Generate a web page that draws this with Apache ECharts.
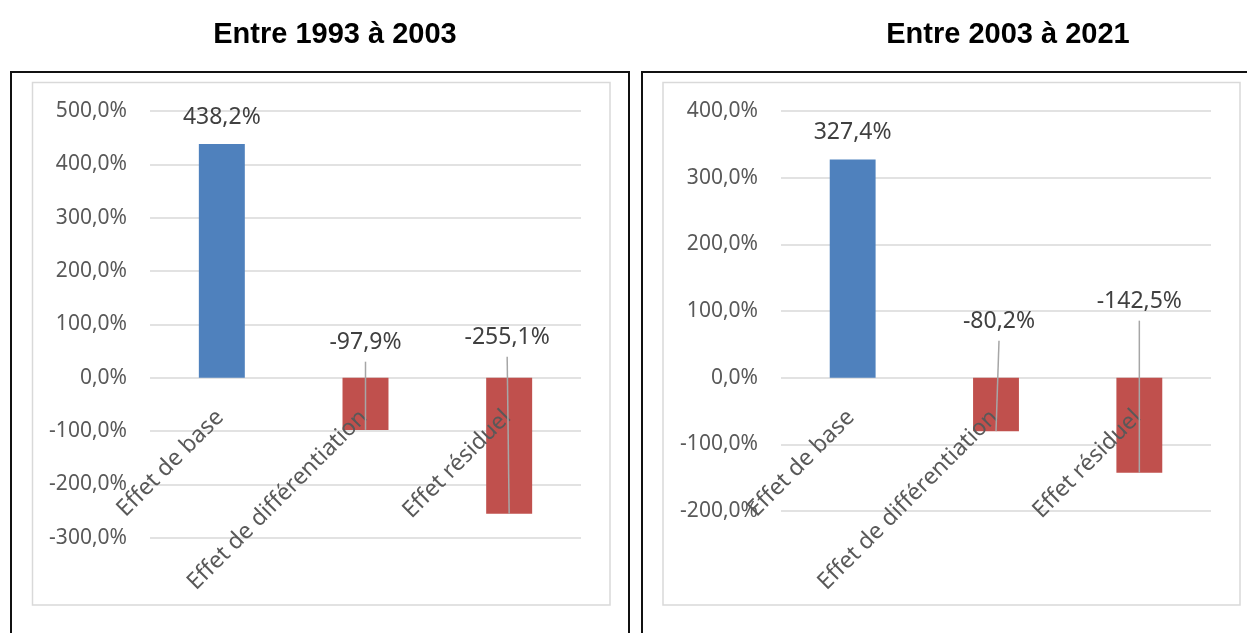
<!DOCTYPE html>
<html>
<head>
<meta charset="utf-8">
<style>
  html, body { margin: 0; padding: 0; background: #ffffff; }
  #chart { width: 1247px; height: 633px; }
</style>
<script src="https://cdn.jsdelivr.net/npm/echarts@6/dist/echarts.min.js"></script>
</head>
<body>
<div id="chart"></div>
<script>
// Décomposition shift-share : effets de base, de différentiation et résiduel
const categories = ['Effet de base', 'Effet de différentiation', 'Effet résiduel'];
const periodTitles = ['Entre 1993 à 2003', 'Entre 2003 à 2021'];
const values1993_2003 = [438.2, -97.9, -255.1];
const values2003_2021 = [327.4, -80.2, -142.5];
const axisMin = [-300, -200];
const axisMax = [500, 400];
const axisStep = 100;

// Placement of the callout labels on negative bars (pixels above the zero line, horizontal nudge)
const calloutLift = [[0, 35, 40], [0, 56, 76]];
const calloutNudge = [[0, 0, -2], [0, 3, 0]];
// Category names hang below the zero line, slanted at 45°
const catLabelGap = 28;
const catLabelShift = -10;

const BLUE = '#4F81BD';
const RED = '#C0504D';
const AXIS_TEXT = '#595959';
const LABEL_TEXT = '#404040';
const GRID_LINE = '#D9D9D9';
const FONT = '"Noto Sans", "Open Sans", sans-serif';

function pct(v) {
  return v.toFixed(1).replace('.', ',') + '%';
}

const chart = echarts.init(document.getElementById('chart'), null, { renderer: 'canvas' });

const grids = [
  { left: 150, right: 666, top: 111, bottom: 95.3, containLabel: false, outerBoundsMode: 'none' },
  { left: 781, right: 36, top: 111, bottom: 122, containLabel: false, outerBoundsMode: 'none' }
];
const seriesValues = [values1993_2003, values2003_2021];

const xAxes = [], yAxes = [], series = [];
seriesValues.forEach((vals, i) => {
  xAxes.push({
    type: 'category',
    gridIndex: i,
    data: categories,
    axisLine: { show: false },
    axisTick: { show: false },
    axisLabel: { show: false }
  });
  yAxes.push({
    type: 'value',
    gridIndex: i,
    min: axisMin[i],
    max: axisMax[i],
    interval: axisStep,
    axisLine: { show: false },
    axisTick: { show: false },
    splitLine: { lineStyle: { color: GRID_LINE, width: 1.5 } },
    axisLabel: {
      margin: 23,
      color: AXIS_TEXT,
      fontFamily: FONT,
      fontSize: 21,
      formatter: v => pct(v)
    }
  });
  series.push({
    type: 'bar',
    xAxisIndex: i,
    yAxisIndex: i,
    barWidth: '32%',
    z: 2,
    data: vals.map(v => ({ value: v, itemStyle: { color: v >= 0 ? BLUE : RED } })),
    label: {
      show: true,
      position: 'top',
      distance: 15,
      color: LABEL_TEXT,
      fontFamily: FONT,
      fontSize: 23,
      formatter: p => (p.value >= 0 ? pct(p.value) : '')
    }
  });
  // Category names on the zero line, plus callout labels with leader lines for negative bars
  series.push({
    type: 'custom',
    xAxisIndex: i,
    yAxisIndex: i,
    z: 6,
    silent: true,
    data: vals.map((v, k) => [k, v]),
    encode: { x: 0, y: 1 },
    renderItem: (params, api) => {
      const k = params.dataIndex;
      const v = api.value(1);
      const zero = api.coord([api.value(0), 0]);
      const end = api.coord([api.value(0), v]);
      const children = [
        {
          type: 'text',
          x: zero[0] + catLabelShift,
          y: zero[1] + catLabelGap,
          rotation: Math.PI / 4,
          style: {
            text: categories[k],
            fill: AXIS_TEXT,
            font: '23px ' + FONT,
            textAlign: 'right',
            textVerticalAlign: 'top'
          }
        }
      ];
      if (v < 0) {
        const lx = zero[0] + calloutNudge[i][k];
        const ly = zero[1] - calloutLift[i][k];
        children.push(
          {
            type: 'line',
            shape: { x1: lx, y1: ly + 19, x2: end[0], y2: end[1] },
            style: { stroke: '#A6A6A6', lineWidth: 1.5 }
          },
          {
            type: 'text',
            x: lx,
            y: ly,
            style: {
              text: pct(v),
              fill: LABEL_TEXT,
              font: '23px ' + FONT,
              textAlign: 'center',
              textVerticalAlign: 'middle'
            }
          }
        );
      }
      return { type: 'group', children: children };
    }
  });
});

chart.setOption({
  animation: false,
  backgroundColor: '#ffffff',
  title: [
    {
      text: periodTitles[0],
      left: 330, top: 29.7,
      textAlign: 'center',
      textVerticalAlign: 'middle',
      textStyle: { fontFamily: '"Liberation Sans", Arial, sans-serif', fontWeight: 'bold', fontSize: 29, color: '#000000' }
    },
    {
      text: periodTitles[1],
      left: 1003, top: 29.7,
      textAlign: 'center',
      textVerticalAlign: 'middle',
      textStyle: { fontFamily: '"Liberation Sans", Arial, sans-serif', fontWeight: 'bold', fontSize: 29, color: '#000000' }
    }
  ],
  graphic: [
    { type: 'rect', shape: { x: 11, y: 72, width: 618, height: 620 }, style: { fill: null, stroke: '#111111', lineWidth: 2 }, z: 0 },
    { type: 'rect', shape: { x: 32.5, y: 82.5, width: 577.5, height: 522.5 }, style: { fill: null, stroke: GRID_LINE, lineWidth: 1.5 }, z: 0 },
    { type: 'rect', shape: { x: 642, y: 72, width: 700, height: 620 }, style: { fill: null, stroke: '#111111', lineWidth: 2 }, z: 0 },
    { type: 'rect', shape: { x: 663, y: 82.5, width: 577, height: 522.5 }, style: { fill: null, stroke: GRID_LINE, lineWidth: 1.5 }, z: 0 }
  ],
  grid: grids,
  xAxis: xAxes,
  yAxis: yAxes,
  series: series
});
</script>
</body>
</html>
